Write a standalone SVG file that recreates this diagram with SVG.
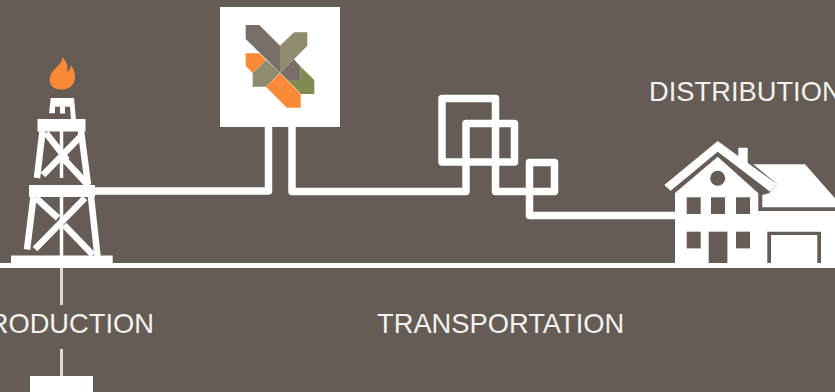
<svg xmlns="http://www.w3.org/2000/svg" width="835" height="392" viewBox="0 0 835 392">
<style>
.bg{fill:#645c55}
.w{fill:#fff}
.pipe{fill:none;stroke:#fff;stroke-width:7.500;stroke-linejoin:round}
.t{font-family:"Liberation Sans",Arial,sans-serif;font-size:27.300px;fill:#f4f2f0}
.leg{stroke:#fff;stroke-width:6.500;fill:none}
.thin{stroke:#ddd9d5;stroke-width:3;fill:none}
.mast{stroke:#fff;stroke-width:3.500;fill:none}
</style>
<rect class="bg" width="835" height="392"/>
<g id="connectors">
<path class="pipe" d="M92 191H268.500V127"/>
<path class="pipe" d="M292 127V191.500H466V123.500H514.500V162H442V98.500H495.500V191.500H529.500V162.500H554.500V191.500H529.500V215.500H676"/>
<path class="thin" d="M61.500 266V305M61.500 349V378"/>
</g>
<g id="ground"><rect class="w" x="0" y="263" width="835" height="5"/></g>
<g id="production">
<path d="M62 57C63 63 57 66 53 71C49 76 49 81 51 85C54 89 59 90 63 89.500C70 89 75 84 75 77C75 72 73 68 71 65C71 68 69 71 67 72C69 66 66 61 62 57Z" fill="#f98a37"/>
<path class="w" d="M50.700 98H74L76 120H71L70 106.700H55V113.300H49Z"/>
<rect class="w" x="60" y="106" width="5" height="7.500"/>
<rect class="w" x="37.500" y="119" width="48" height="12.500"/>
<rect class="w" x="29" y="185" width="66" height="12"/>
<path class="w" d="M11 255.500H112.700V264H11Z"/>
<path class="leg" d="M42.500 131L37 178M81 131L88 185M33.500 197L27 249.500M91 197L97.500 256"/>
<path class="leg" d="M46 133L67 160M83 134L43 175M62 157L87 184M36 198L58 218M85 198L35 249M64 225L93 255"/>
<path class="mast" d="M61.500 131V178M61.500 197V256"/>
<text class="t" x="154" y="332.500" text-anchor="end">PRODUCTION</text>
<rect class="w" x="30" y="376" width="63" height="16"/>
</g>
<g id="logo">
<rect class="w" x="220" y="7" width="120" height="120"/>
<path fill="#787068" d="M245.700 25H259.300L280 45.700V72.700L245.700 39Z"/>
<path fill="#8f8b6e" d="M280 45.700L294 32.300H307.300V45.700L294 59.300L280 72.700Z"/>
<path fill="#787068" d="M294 59.300L300.700 66.700V80H287.300L280 72.700Z"/>
<path fill="#7f8b52" d="M300.700 66.700L314.300 80V94H301L287.300 80H300.700Z"/>
<path fill="#f98a37" d="M245.700 53.300H259.300L266 60L252.700 73.300L245.700 66Z"/>
<path fill="#8f8b6e" d="M266 60L280 72.700L266 86.700H252.700V73.300Z"/>
<path fill="#f98a37" d="M280 73.300L300.700 94V107.700H286.700L266 86.700Z"/>
</g>
<g id="distribution">
<path class="w" d="M675 193L717.700 156.700L758.300 193.300V211H835V268H675Z"/>
<path class="w" d="M664.300 185L717.700 141L777.300 184.300L770 191.700L717.700 151.700L670.700 190.700Z"/>
<path class="w" d="M738.300 147.700H747.700V170L738.300 165Z"/>
<path class="w" d="M753.300 164.300H805L835 198.300V207.300H762.300V195L769 193.300L777.300 184.300Z"/>
<circle class="bg" cx="717.700" cy="178.300" r="7.500"/>
<g class="bg">
<rect x="686.700" y="197.300" width="14" height="16.700"/>
<rect x="711" y="197.300" width="14" height="16.700"/>
<rect x="736" y="197.300" width="14" height="16.700"/>
<rect x="686.700" y="231.700" width="14" height="16.700"/>
<rect x="708.700" y="231.700" width="18.700" height="31.300"/>
<rect x="736" y="231.700" width="14" height="16.700"/>
<path d="M767.300 231.700H821V263H817.300V235H771V263H767.300Z"/>
</g>
<text class="t" x="649" y="101">DISTRIBUTION</text>
</g>
<g id="transportation"><text class="t" x="377" y="332.500">TRANSPORTATION</text></g>
</svg>
